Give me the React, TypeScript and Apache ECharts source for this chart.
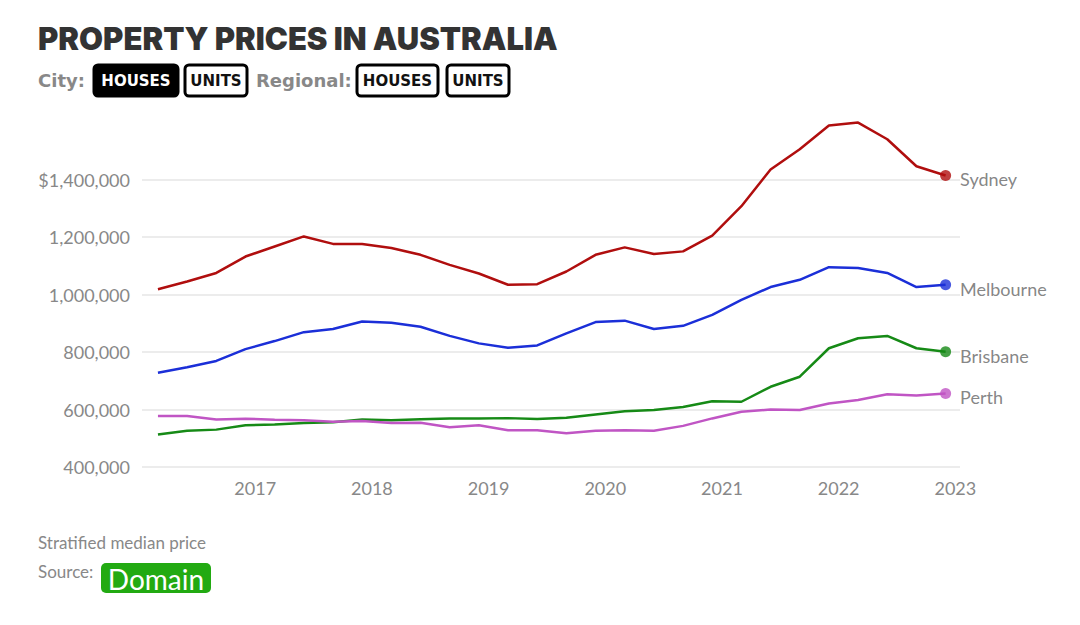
import React, { useEffect, useRef } from "react";
import * as echarts from "echarts";

const quarters = [
  "2016-03", "2016-06", "2016-09", "2016-12",
  "2017-03", "2017-06", "2017-09", "2017-12",
  "2018-03", "2018-06", "2018-09", "2018-12",
  "2019-03", "2019-06", "2019-09", "2019-12",
  "2020-03", "2020-06", "2020-09", "2020-12",
  "2021-03", "2021-06", "2021-09", "2021-12",
  "2022-03", "2022-06", "2022-09", "2022-12",
];

const sydney = [
  1018000, 1045000, 1075000, 1132000, 1167000, 1202000, 1176000, 1176000,
  1162000, 1138000, 1103000, 1073000, 1034000, 1036000, 1080000, 1138000,
  1164000, 1141000, 1150000, 1205000, 1307000, 1435000, 1505000, 1588000,
  1598000, 1540000, 1446000, 1414000,
];
const melbourne = [
  728000, 747000, 769000, 810000, 838000, 869000, 880000, 906000,
  902000, 888000, 856000, 830000, 815000, 823000, 865000, 904000,
  909000, 880000, 891000, 929000, 981000, 1026000, 1051000, 1095000,
  1092000, 1075000, 1026000, 1034000,
];
const brisbane = [
  513000, 526000, 530000, 545000, 548000, 553000, 556000, 565000,
  563000, 566000, 569000, 569000, 570000, 567000, 571000, 583000,
  594000, 598000, 609000, 629000, 627000, 679000, 714000, 813000,
  848000, 856000, 813000, 801000,
];
const perth = [
  577000, 577000, 565000, 568000, 564000, 563000, 557000, 560000,
  553000, 554000, 538000, 545000, 528000, 528000, 517000, 526000,
  528000, 526000, 543000, 569000, 592000, 600000, 598000, 621000,
  633000, 653000, 649000, 656000,
];

const cities = ["Sydney", "Melbourne", "Brisbane", "Perth"];
const cityValues = [sydney, melbourne, brisbane, perth];
const cityColors = ["#b00e0e", "#1b2fd8", "#168a16", "#c055c4"];

const yearTicks = [2017, 2018, 2019, 2020, 2021, 2022, 2023];

const FONT = "Lato, 'Open Sans', sans-serif";
const WIDE = "'DejaVu Sans', Verdana, sans-serif";

function toYear(q: string): number {
  const [y, m] = q.split("-").map(Number);
  return y + (m - 1) / 12;
}

function button(x: number, y: number, w: number, label: string, active: boolean) {
  return {
    type: "group",
    children: [
      {
        type: "rect",
        shape: { x, y, width: w, height: 31, r: 4 },
        style: { fill: active ? "#000" : "#fff", stroke: "#000", lineWidth: 3 },
      },
      {
        type: "text",
        style: {
          x: x + w / 2,
          y: y + 16,
          text: label,
          fill: active ? "#fff" : "#111",
          font: `bold 15px ${WIDE}`,
          textAlign: "center",
          textVerticalAlign: "middle",
        },
      },
    ],
  };
}

export default function App() {
  const ref = useRef<HTMLDivElement>(null);
  useEffect(() => {
    document.body.style.margin = "0";
    const chart = echarts.init(ref.current!, null, { renderer: "svg" });
    const lineSeries = cities.map((name, i) => ({
      name,
      type: "line",
      data: quarters.map((q, j) => [toYear(q), cityValues[i][j]]),
      showSymbol: false,
      lineStyle: { color: cityColors[i], width: 2.5 },
      itemStyle: { color: cityColors[i] },
      z: 3,
    }));
    const endSeries = cities.map((name, i) => ({
      name: name + "-end",
      type: "scatter",
      data: [[toYear(quarters[quarters.length - 1]), cityValues[i][quarters.length - 1]]],
      symbolSize: 11,
      itemStyle: { color: cityColors[i] },
      label: {
        show: true,
        position: "right",
        distance: 9,
        offset: [0, 4],
        formatter: name,
        color: "#666",
        fontSize: 18,
        fontFamily: FONT,
      },
      z: 4,
    }));
    chart.setOption({
      animation: false,
      title: {
        text: "PROPERTY PRICES IN AUSTRALIA",
        left: 33,
        top: 18,
        textStyle: { fontSize: 31, fontWeight: 900, color: "#333", fontFamily: "Inter, sans-serif" },
      },
      grid: { left: 142, right: 120, top: 122, bottom: 158 },
      xAxis: {
        type: "value",
        min: 2016.03,
        max: 2023.04,
        axisLine: { show: false },
        axisTick: { show: false },
        splitLine: { show: false },
        axisLabel: {
          customValues: yearTicks,
          formatter: (v: number) => String(Math.round(v)),
          color: "#888",
          fontSize: 18,
          fontFamily: FONT,
          margin: 12,
        },
      },
      yAxis: {
        type: "value",
        min: 400000,
        max: 1600000,
        interval: 200000,
        axisLine: { show: false },
        axisTick: { show: false },
        splitLine: { showMaxLine: false, lineStyle: { color: "#e6e6e6", width: 1.5 } },
        axisLabel: {
          showMaxLabel: false,
          color: "#888",
          fontSize: 18,
          fontFamily: FONT,
          margin: 12,
          formatter: (v: number) =>
            (v === 1400000 ? "$" : "") + v.toLocaleString("en-US"),
        },
      },
      graphic: [
        {
          type: "text",
          style: {
            x: 38, y: 80, text: "City:", fill: "#888",
            font: `bold 18px ${WIDE}`, textVerticalAlign: "middle",
          },
        },
        button(94, 65, 84, "HOUSES", true),
        button(185, 65, 62, "UNITS", false),
        {
          type: "text",
          style: {
            x: 256, y: 80, text: "Regional:", fill: "#888",
            font: `bold 18px ${WIDE}`, textVerticalAlign: "middle",
          },
        },
        button(357, 65, 81, "HOUSES", false),
        button(447, 65, 62, "UNITS", false),
        {
          type: "text",
          style: {
            x: 38, y: 542, text: "Stratified median price", fill: "#888",
            font: `17px ${FONT}`, textVerticalAlign: "middle",
          },
        },
        {
          type: "text",
          style: {
            x: 38, y: 571, text: "Source:", fill: "#888",
            font: `17px ${FONT}`, textVerticalAlign: "middle",
          },
        },
        {
          type: "rect",
          shape: { x: 101, y: 563, width: 110, height: 30, r: 5 },
          style: { fill: "#22aa12" },
        },
        {
          type: "text",
          style: {
            x: 156, y: 579, text: "Domain", fill: "#fff",
            font: `28px ${FONT}`, textAlign: "center", textVerticalAlign: "middle",
          },
        },
      ],
      series: [...lineSeries, ...endSeries],
    });
    return () => chart.dispose();
  }, []);
  return <div ref={ref} style={{ width: 1080, height: 625 }} />;
}
